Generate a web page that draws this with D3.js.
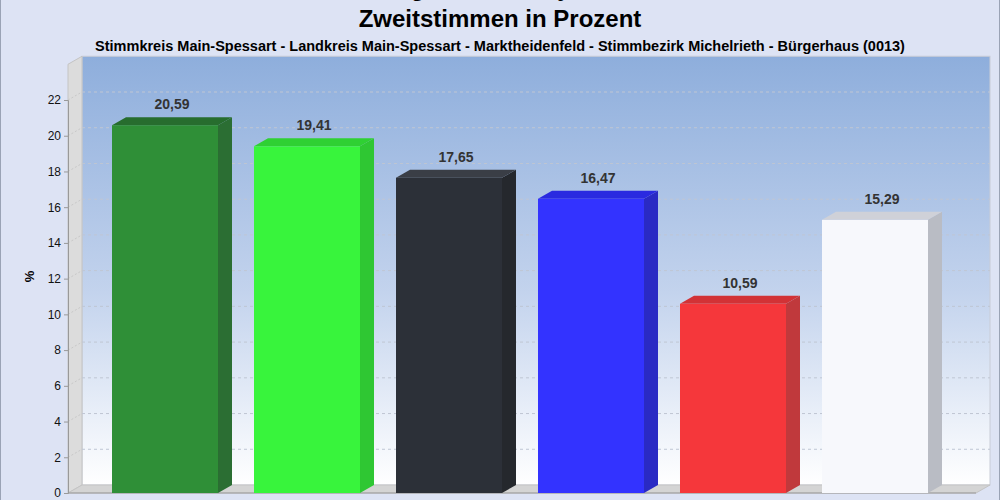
<!DOCTYPE html>
<html><head><meta charset="utf-8">
<script src="https://cdn.jsdelivr.net/npm/d3@7"></script>
<style>body{margin:0;background:#fff}svg{display:block}</style>
</head><body>
<script>
// Data
let parties = ["CSU", "Grüne", "FW", "SPD", "AfD", "Sonstige"];
let values = [20.59, 19.41, 17.65, 16.47, 10.59, 15.29];
let fronts = ["#2f8f37", "#38f43c", "#2c3038", "#3333ff", "#f5373b", "#f7f8fc"];
let sides = ["#2b6e33", "#2fc733", "#25282d", "#2a2ac4", "#c0393c", "#b9bcc4"];
let tops = ["#276d2e", "#2fd033", "#3a3e46", "#2a2ae0", "#d23236", "#cfd1d8"];
let yTicks = [0, 2, 4, 6, 8, 10, 12, 14, 16, 18, 20, 22];

let W = 1000, H = 500;
let font = "Liberation Sans, Arial, sans-serif";
let svg = d3.select("body").append("svg").attr("width", W).attr("height", H);

let defs = svg.append("defs");
let grad = defs.append("linearGradient").attr("id", "wall").attr("x1", 0).attr("y1", 0).attr("x2", 0).attr("y2", 1);
grad.append("stop").attr("offset", "0%").attr("stop-color", "#8eaedc");
grad.append("stop").attr("offset", "55%").attr("stop-color", "#c3d3ed");
grad.append("stop").attr("offset", "100%").attr("stop-color", "#ffffff");

// Background
svg.append("rect").attr("x", 0.5).attr("y", -5).attr("width", W - 1).attr("height", H + 10)
    .attr("fill", "#dde3f4").attr("stroke", "#9aa3b5");

// Titles (first line is cut off at the top, as in the original)
svg.append("text").attr("x", W / 2).attr("y", -4).attr("text-anchor", "middle")
    .attr("font-family", font).attr("font-weight", "bold").attr("font-size", 24)
    .text("Landtagswahl in Bayern 2018");
svg.append("text").attr("x", W / 2).attr("y", 27).attr("text-anchor", "middle")
    .attr("font-family", font).attr("font-weight", "bold").attr("font-size", 24)
    .text("Zweitstimmen in Prozent");
svg.append("text").attr("x", W / 2).attr("y", 51).attr("text-anchor", "middle")
    .attr("font-family", font).attr("font-weight", "bold").attr("font-size", 14.5)
    .text("Stimmkreis Main-Spessart - Landkreis Main-Spessart - Marktheidenfeld - Stimmbezirk Michelrieth - Bürgerhaus (0013)");

// Geometry
let dx = 14, dy = 8;
let left = 68, right = 976, bottom = 493;
let y = d3.scaleLinear().domain([0, 22]).range([bottom, 100]);
let x = d3.scaleBand().domain(parties).range([112, 928]).paddingInner(0.2535).paddingOuter(0);
let topV = 24;

// Back wall
svg.append("rect").attr("x", left + dx).attr("y", y(topV) - dy).attr("width", right - left)
    .attr("height", bottom - y(topV)).attr("fill", "url(#wall)").attr("stroke", "#c8ccd6");
// Left side wall
svg.append("path").attr("d", `M${left},${y(topV)} L${left + dx},${y(topV) - dy} L${left + dx},${bottom - dy} L${left},${bottom} Z`)
    .attr("fill", "#dcdcdc").attr("stroke", "#c4c4c4");
// Floor
svg.append("path").attr("d", `M${left},${bottom} L${left + dx},${bottom - dy} L${right + dx},${bottom - dy} L${right},${bottom} Z`)
    .attr("fill", "#d4d4d4").attr("stroke", "#c4c4c4");

// Grid lines
yTicks.slice(1).forEach(t => {
    svg.append("line").attr("x1", left + dx).attr("x2", right + dx).attr("y1", y(t) - dy).attr("y2", y(t) - dy)
        .attr("stroke", "#bfc6d3").attr("stroke-dasharray", "3,3");
    svg.append("line").attr("x1", left).attr("x2", left + dx).attr("y1", y(t)).attr("y2", y(t) - dy)
        .attr("stroke", "#c8c8c8").attr("stroke-dasharray", "2,2");
});

// Y axis
let yAxis = svg.append("g").attr("transform", `translate(${left},0)`)
    .call(d3.axisLeft(y).tickValues(yTicks).tickSize(4).tickPadding(3));
yAxis.select(".domain").attr("stroke", "#999");
yAxis.selectAll("line").attr("stroke", "#999");
yAxis.selectAll("text").attr("font-family", font).attr("font-size", 12).attr("fill", "#111");
svg.append("line").attr("x1", left).attr("x2", right).attr("y1", bottom).attr("y2", bottom).attr("stroke", "#999");

svg.append("text").attr("transform", `translate(34,${(bottom + 60) / 2}) rotate(-90)`).attr("text-anchor", "middle")
    .attr("font-family", font).attr("font-weight", "bold").attr("font-size", 13).text("%");

// Bars
let bars = svg.selectAll(".bar").data(parties).enter().append("g").attr("class", "bar");
bars.append("path").attr("d", (d, i) => {
    let x0 = x(d) + x.bandwidth(), yt = y(values[i]);
    return `M${x0},${bottom} L${x0 + dx},${bottom - dy} L${x0 + dx},${yt - dy} L${x0},${yt} Z`;
}).attr("fill", (d, i) => sides[i]);
bars.append("path").attr("d", (d, i) => {
    let x0 = x(d), x1 = x0 + x.bandwidth(), yt = y(values[i]);
    return `M${x0},${yt} L${x0 + dx},${yt - dy} L${x1 + dx},${yt - dy} L${x1},${yt} Z`;
}).attr("fill", (d, i) => tops[i]);
bars.append("rect").attr("x", d => x(d)).attr("y", (d, i) => y(values[i]))
    .attr("width", x.bandwidth()).attr("height", (d, i) => bottom - y(values[i]))
    .attr("fill", (d, i) => fronts[i]);
bars.append("text").attr("x", d => x(d) + x.bandwidth() / 2 + dx / 2).attr("y", (d, i) => y(values[i]) - dy - 8)
    .attr("text-anchor", "middle").attr("font-family", font)
    .attr("font-weight", "bold").attr("font-size", 14).attr("fill", "#333")
    .text((d, i) => d3.format(".2f")(values[i]).replace(".", ","));
</script>
</body></html>
